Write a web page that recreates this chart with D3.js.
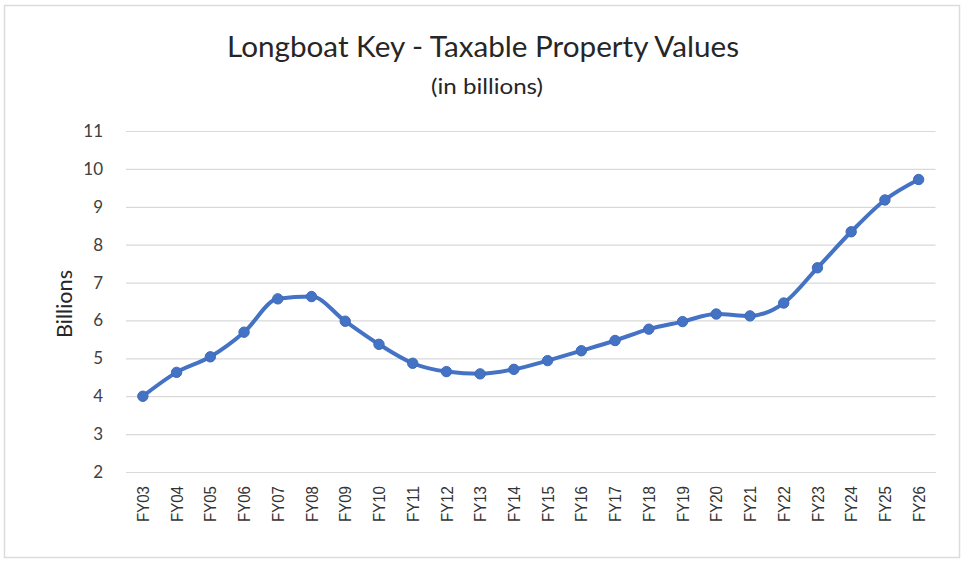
<!DOCTYPE html>
<html>
<head>
<meta charset="utf-8">
<script src="https://cdn.jsdelivr.net/npm/d3@7"></script>
<style>
  html, body { margin: 0; padding: 0; background: #ffffff; }
  svg { display: block; }
</style>
</head>
<body>
<script>
const categories = ["FY03","FY04","FY05","FY06","FY07","FY08","FY09","FY10","FY11","FY12","FY13","FY14","FY15","FY16","FY17","FY18","FY19","FY20","FY21","FY22","FY23","FY24","FY25","FY26"];
const values = [4.00, 4.63, 5.04, 5.69, 6.57, 6.63, 5.98, 5.37, 4.87, 4.65, 4.59, 4.71, 4.94, 5.20, 5.47, 5.77, 5.97, 6.17, 6.12, 6.46, 7.39, 8.34, 9.18, 9.72];
const yTicks = [2, 3, 4, 5, 6, 7, 8, 9, 10, 11];
const titleText = "Longboat Key - Taxable Property Values";
const subtitleText = "(in billions)";
const yAxisTitle = "Billions";

const W = 968, H = 562;
const svg = d3.select("body").append("svg").attr("width", W).attr("height", H);

svg.append("rect").attr("x", 4.5).attr("y", 5.5).attr("width", 955).attr("height", 552)
  .attr("fill", "#ffffff").attr("stroke", "#dcdcdc").attr("stroke-width", 1.5);

const plot = { left: 126, right: 935.5, top: 131, bottom: 472 };

const x = d3.scaleBand().domain(categories).range([plot.left, plot.right]).paddingInner(0).paddingOuter(0);
const y = d3.scaleLinear().domain([2, 11]).range([plot.bottom, plot.top]);

// gridlines
const yAxis = d3.axisLeft(y).tickValues(yTicks).tickSize(-(plot.right - plot.left)).tickPadding(23).tickFormat(d3.format("d"));
const gy = svg.append("g").attr("transform", `translate(${plot.left},0)`).call(yAxis);
gy.select(".domain").remove();
gy.selectAll(".tick line").attr("stroke", "#d9d9d9").attr("stroke-width", 1.2);
gy.selectAll(".tick text").attr("fill", "#404040").style("font-family", "Lato, 'Open Sans', sans-serif").style("font-size", "17px");

// x axis
const xAxis = d3.axisBottom(x).tickSize(0).tickPadding(0);
const gx = svg.append("g").attr("transform", `translate(0,${plot.bottom})`).call(xAxis);
gx.select(".domain").attr("stroke", "#d9d9d9").attr("stroke-width", 1.2);
gx.selectAll(".tick text")
  .attr("transform", "rotate(-90)")
  .attr("text-anchor", "end")
  .attr("x", -14)
  .attr("y", 0)
  .attr("dy", "0.36em")
  .attr("fill", "#333333")
  .attr("textLength", 36)
  .attr("lengthAdjust", "spacingAndGlyphs")
  .style("font-family", "'Liberation Sans', Arial, sans-serif")
  .style("font-size", "17px");

// line
const line = d3.line()
  .x((d, i) => x(categories[i]) + x.bandwidth() / 2)
  .y(d => y(d))
  .curve(d3.curveMonotoneX);

svg.append("path").datum(values)
  .attr("d", line)
  .attr("fill", "none")
  .attr("stroke", "#4472C4")
  .attr("stroke-width", 4)
  .attr("stroke-linejoin", "round");

svg.append("g").selectAll("circle").data(values).join("circle")
  .attr("cx", (d, i) => x(categories[i]) + x.bandwidth() / 2)
  .attr("cy", d => y(d))
  .attr("r", 5.2)
  .attr("fill", "#4472C4")
  .attr("stroke", "#3f6bb8")
  .attr("stroke-width", 1);

// titles
svg.append("text").attr("x", 483).attr("y", 57).attr("text-anchor", "middle")
  .attr("fill", "#262626")
  .attr("textLength", 512).attr("lengthAdjust", "spacingAndGlyphs")
  .style("font-family", "Lato, 'Open Sans', sans-serif").style("font-size", "28px")
  .text(titleText);

svg.append("text").attr("x", 487).attr("y", 94).attr("text-anchor", "middle")
  .attr("fill", "#262626")
  .attr("textLength", 112).attr("lengthAdjust", "spacingAndGlyphs")
  .style("font-family", "Lato, 'Open Sans', sans-serif").style("font-size", "21px")
  .text(subtitleText);

svg.append("text")
  .attr("transform", `translate(72,${304}) rotate(-90)`)
  .attr("text-anchor", "middle")
  .attr("fill", "#262626")
  .attr("textLength", 68).attr("lengthAdjust", "spacingAndGlyphs")
  .style("font-family", "Lato, 'Open Sans', sans-serif").style("font-size", "21px")
  .text(yAxisTitle);
</script>
</body>
</html>
